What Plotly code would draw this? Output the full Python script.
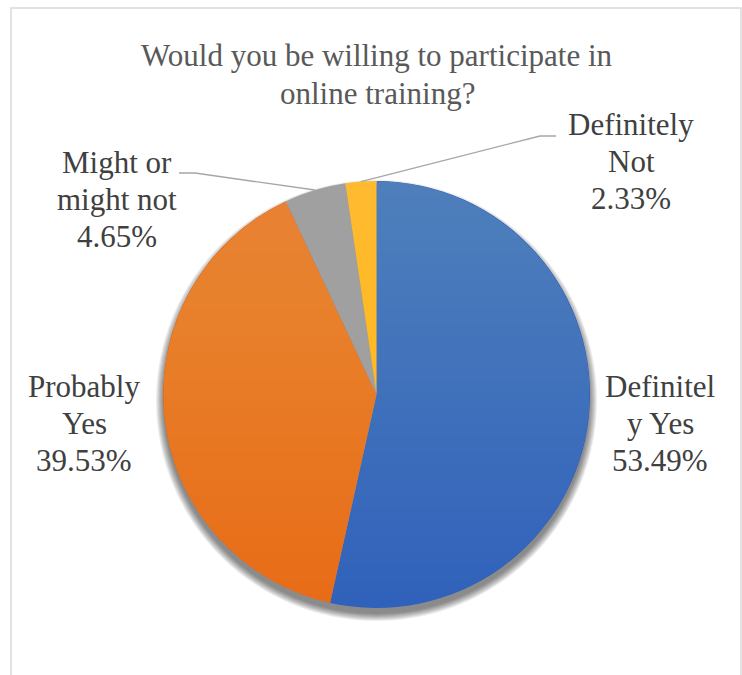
import math
import plotly.graph_objects as go

# Survey responses (percent of respondents)
categories = ["Definitely Yes", "Probably Yes", "Might or might not", "Definitely Not"]
shares = [53.49, 39.53, 4.65, 2.33]
label_lines = [["Definitel", "y Yes"], ["Probably", "Yes"], ["Might or", "might not"], ["Definitely", "Not"]]
slice_colors = ["#3061BB", "#E86B16", "#A0A0A0", "#FFBA12"]
title_lines = ["Would you be willing to participate in", "online training?"]

W, H = 742, 675
CX, CY, R = 376.5, 394.5, 213.5          # pie centre and radius in pixels
FONT = "Liberation Serif"
FS = 31
PITCH = 37


def px(x):
    return x / W


def py(y):
    return 1 - y / H


fig = go.Figure(go.Pie(
    labels=categories, values=shares, sort=False, direction="clockwise", rotation=0,
    marker=dict(colors=slice_colors, line=dict(width=0)),
    textinfo="none", hoverinfo="label+percent", showlegend=False,
    domain=dict(x=[px(CX - R), px(CX + R)], y=[py(CY + R), py(CY - R)]),
))

shapes = []

# soft drop shadow under the pie, offset downwards
for k in range(8):
    r = R + k
    shapes.append(dict(type="circle", xref="paper", yref="paper", layer="below",
                       x0=px(CX - r), x1=px(CX + r), y0=py(CY + 6 + r), y1=py(CY + 6 - r),
                       line=dict(width=0), fillcolor="rgba(0,0,0,0.07)"))


def arc_path(t0, t1, n=72):
    pts = []
    for i in range(n + 1):
        t = t0 + (t1 - t0) * i / n
        x = CX + R * math.sin(t)
        y = CY - R * math.cos(t)
        pts.append(f"{px(x):.5f},{py(y):.5f}")
    return "M" + " L".join(pts) + " Z"


# vertical light-to-dark sheen over the disc
N = 30
for k in range(1, N + 1):
    limit = CY - R + 2 * R * k / N
    c = max(-1.0, min(1.0, (CY - limit) / R))
    a = math.acos(c)
    shapes.append(dict(type="path", xref="paper", yref="paper", layer="above",
                       path=arc_path(-a, a), line=dict(width=0),
                       fillcolor="rgba(255,255,255,0.0072)"))

# leader lines for the two thin slices
total = sum(shares)
mids = []
cum = 0.0
for v in shares:
    mids.append((cum + v / 2) / total * 2 * math.pi)
    cum += v


def edge(m):
    return CX + R * math.sin(m), CY - R * math.cos(m)


leaders = {2: [(195, 173), (179, 173)], 3: [(540, 136), (556, 136)]}
for i, pts in leaders.items():
    ex, ey = edge(mids[i])
    seq = [(ex, ey)] + pts
    path = "M" + " L".join(f"{px(x):.5f},{py(y):.5f}" for x, y in seq)
    shapes.append(dict(type="path", xref="paper", yref="paper", layer="above",
                       path=path, line=dict(color="#A6A6A6", width=1.4)))

# chart frame
shapes.append(dict(type="rect", xref="paper", yref="paper", layer="above",
                   x0=px(11), x1=px(741), y0=py(710), y1=py(8),
                   line=dict(color="#D9D9D9", width=1.5), fillcolor="rgba(0,0,0,0)"))

annotations = []


def add_line(text, x, baseline, color):
    annotations.append(dict(text=text, x=px(x), y=py(baseline - 10.5), xref="paper", yref="paper",
                            xanchor="center", yanchor="middle", showarrow=False,
                            font=dict(family=FONT, size=FS, color=color)))


# title
for j, t in enumerate(title_lines):
    add_line(t, 377, 66 + 38 * j, "#595959")

# data labels: category name lines followed by the percentage
label_pos = [(660, 397), (84, 397), (117, 173), (631, 135)]
for i, (lx, b0) in enumerate(label_pos):
    lines = label_lines[i] + [f"{shares[i]:.2f}%"]
    for j, t in enumerate(lines):
        add_line(t, lx, b0 + PITCH * j, "#404040")

fig.update_layout(
    width=W, height=H, margin=dict(l=0, r=0, t=0, b=0),
    paper_bgcolor="white", plot_bgcolor="white",
    font=dict(family=FONT),
    shapes=shapes, annotations=annotations, showlegend=False,
)

fig.write_html("out.html")
